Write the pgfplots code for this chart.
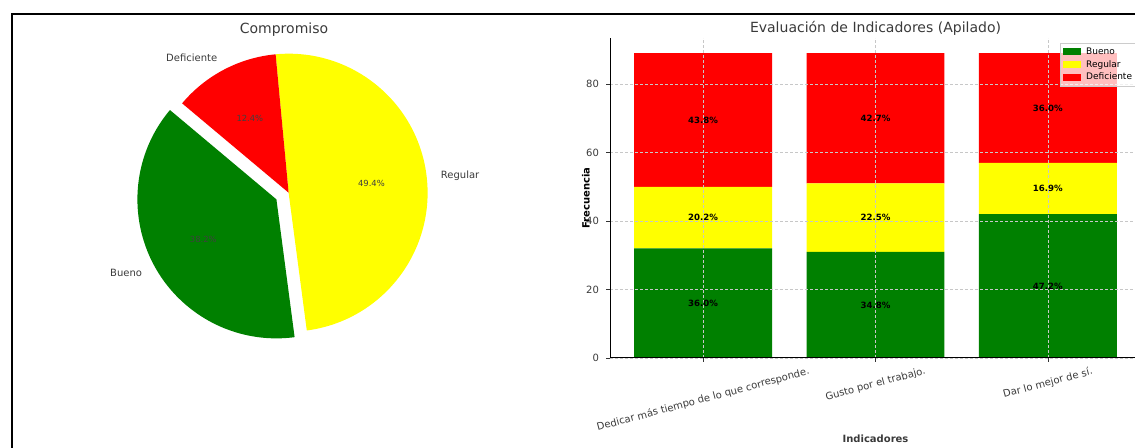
\documentclass[border=0pt]{standalone}
\usepackage{fontspec}
\setmainfont{DejaVu Sans}
\usepackage{graphicx}
\usepackage{pgfplots}
\pgfplotsset{compat=1.18}
\definecolor{mgreen}{HTML}{008000}
\definecolor{myellow}{HTML}{FFFF00}
\definecolor{mred}{HTML}{FF0000}
\definecolor{txt}{HTML}{3A3A3A}
% pie shares (percent)
\def\pB{38.2}\def\pR{49.4}\def\pD{12.4}
\begin{document}
\begin{tikzpicture}
\pgfmathsetmacro\aA{140}
\pgfmathsetmacro\aB{\aA+3.6*\pB}
\pgfmathsetmacro\aC{\aB+3.6*\pR}
\pgfmathsetmacro\aD{\aC+3.6*\pD}
\pgfmathsetmacro\mB{(\aA+\aB)/2}
\pgfmathsetmacro\mR{(\aB+\aC)/2}
\pgfmathsetmacro\mD{(\aC+\aD)/2}
\pgfmathsetmacro\ex{0.1*cos(\mB)}
\pgfmathsetmacro\ey{0.1*sin(\mB)}
\begin{axis}[x=69.5pt, y=69.5pt, anchor=south west, at={(33.1pt,16.45pt)},
  xmin=-1.6, xmax=1.6, ymin=-1.6, ymax=1.6, hide axis]
 \fill[mgreen] (\ex,\ey) -- ++(\aA:69.5pt) arc[start angle=\aA, end angle=\aB, radius=69.5pt] -- cycle;
 \fill[myellow] (0,0) -- ++(\aB:69.5pt) arc[start angle=\aB, end angle=\aC, radius=69.5pt] -- cycle;
 \fill[mred] (0,0) -- ++(\aC:69.5pt) arc[start angle=\aC, end angle=\aD, radius=69.5pt] -- cycle;
 \node[anchor=east, inner sep=0pt, font=\fontsize{5}{6}\selectfont, text=txt] at ({\ex+1.1*cos(\mB)},{\ey+1.1*sin(\mB)}) {Bueno};
 \node[anchor=west, inner sep=0pt, font=\fontsize{5}{6}\selectfont, text=txt] at ({1.1*cos(\mR)},{1.1*sin(\mR)}) {Regular};
 \node[anchor=east, inner sep=0pt, font=\fontsize{5}{6}\selectfont, text=txt] at ({1.1*cos(\mD)},{1.1*sin(\mD)}) {Deficiente};
 \node[font=\fontsize{4.2}{5}\selectfont, text=black!75] at ({\ex+0.6*cos(\mB)},{\ey+0.6*sin(\mB)}) {\pB\%};
 \node[font=\fontsize{4.2}{5}\selectfont, text=black!75] at ({0.6*cos(\mR)},{0.6*sin(\mR)}) {\pR\%};
 \node[font=\fontsize{4.2}{5}\selectfont, text=black!75] at ({0.6*cos(\mD)},{0.6*sin(\mD)}) {\pD\%};
\end{axis}
\node[font=\fontsize{7}{8}\selectfont, text=txt] at (142pt,209pt) {Compromiso};

\begin{axis}[at={(305pt,45pt)}, anchor=south west, scale only axis, width=265.5pt, height=160pt,
 ybar stacked, bar width=0.8, xmin=-0.54, xmax=2.54, ymin=0, ymax=93.45, enlargelimits=false,
 xtick={0,1,2},
 xticklabels={\rotatebox{15}{Dedicar más tiempo de lo que corresponde.},\rotatebox{15}{Gusto por el trabajo.},\rotatebox{15}{Dar lo mejor de sí.}},
 ytick={0,20,40,60,80},
 axis x line*=bottom, axis y line*=left, axis line style={black, line width=0.5pt},
 tick align=outside, major tick length=2pt, tick style={black!80, line width=0.4pt},
 grid=major, major grid style={black!22, line width=0.3pt, dash pattern=on 1.5pt off 1pt},
 axis on top,
 ticklabel style={font=\fontsize{5}{6}\selectfont, text=txt},
 /pgf/number format/assume math mode=true,
 xticklabel style={anchor=north, inner sep=1pt, yshift=-1pt},
 title={Evaluación de Indicadores (Apilado)},
 every axis title shift=0pt,
 title style={at={(axis description cs:0.5,1.031)}, anchor=center, font=\fontsize{7}{8}\selectfont, text=txt},
 xlabel={Indicadores},
 xlabel style={at={(axis description cs:0.5,-0.253)}, anchor=center, font=\bfseries\fontsize{5}{6}\selectfont, text=txt},
 ylabel={Frecuencia},
 ylabel style={at={(axis description cs:-0.0452,0.5)}, anchor=center, font=\bfseries\fontsize{5}{6}\selectfont, text=black},
 legend style={at={(axis description cs:0.847,0.984)}, anchor=north west, fill=white, fill opacity=0.75, text opacity=1, draw=white!80!black, font=\fontsize{4.5}{5}\selectfont, row sep=1pt, inner sep=1.5pt,
   nodes={inner sep=0.5pt, text height=3.4pt, text depth=1pt},
   /tikz/every odd column/.append style={column sep=2pt}},
 legend cell align=left,
 legend image code/.code={\fill[#1, fill opacity=1] (0pt,-1.6pt) rectangle (9pt,1.9pt);},
]
\addplot[fill=mgreen, draw=none] coordinates {(0,32) (1,31) (2,42)};
\addplot[fill=myellow, draw=none] coordinates {(0,18) (1,20) (2,15)};
\addplot[fill=mred, draw=none] coordinates {(0,39) (1,38) (2,32)};
\legend{Bueno, Regular, Deficiente}
\end{axis}

\begin{axis}[at={(305pt,45pt)}, anchor=south west, scale only axis, width=265.5pt, height=160pt,
 xmin=-0.54, xmax=2.54, ymin=0, ymax=93.45, hide axis]
\addplot[draw=none, nodes near coords={\pgfplotspointmeta\%}, point meta=explicit symbolic,
  every node near coord/.append style={anchor=center, font=\bfseries\fontsize{4.3}{5}\selectfont, text=black}]
 table[meta=lab] {
x y lab
0 16 36.0
0 41 20.2
0 69.5 43.8
1 15.5 34.8
1 41 22.5
1 70 42.7
2 21 47.2
2 49.5 16.9
2 73 36.0
};
\end{axis}

\draw[line width=1pt, black] (6pt,-2pt) -- (6pt,217pt) -- (570pt,217pt);
\pgfresetboundingbox
\useasboundingbox (0,0) rectangle (567.5pt,224pt);
\end{tikzpicture}
\end{document}
